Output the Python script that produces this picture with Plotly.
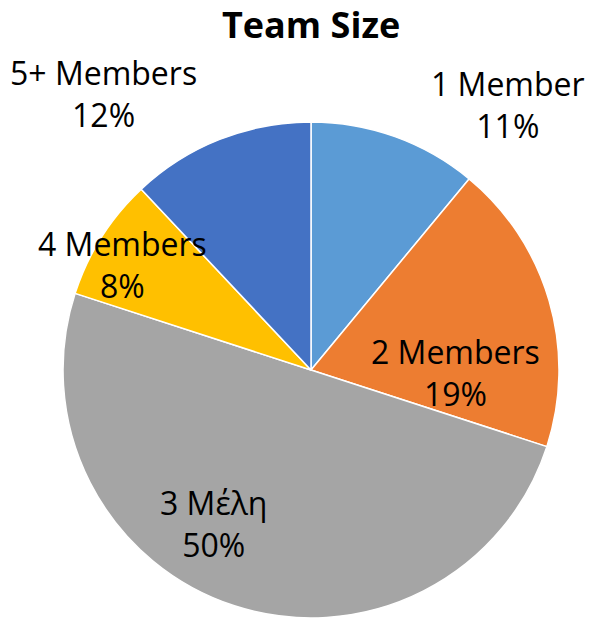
import plotly.graph_objects as go

# data
labels = ["1 Member", "2 Members", "3 Μέλη", "4 Members", "5+ Members"]
values = [11, 19, 50, 8, 12]
colors = ["#5B9BD5", "#ED7D31", "#A5A5A5", "#FFC000", "#4472C4"]

W, H = 593, 620


def fx(px):
    return px / W


def fy(py):
    return 1 - py / H


# label block centres in window pixels (layout only)
label_pos = [(508, 105), (456, 372), (213, 523), (122, 264), (103, 93)]

total = sum(values)
fig = go.Figure(go.Pie(
    labels=labels,
    values=values,
    sort=False,
    direction="clockwise",
    rotation=0,
    marker=dict(colors=colors, line=dict(color="white", width=1.5)),
    textinfo="none",
    hoverinfo="label+percent",
    domain=dict(x=[fx(63), fx(559)], y=[fy(618), fy(122)]),
    showlegend=False,
))

for lab, val, (px, py) in zip(labels, values, label_pos):
    fig.add_annotation(
        x=fx(px), y=fy(py), xref="paper", yref="paper",
        text=f"{lab}<br>{round(100 * val / total)}%",
        showarrow=False, xanchor="center", yanchor="middle",
        font=dict(family="Open Sans", size=32, color="black"),
    )

fig.add_annotation(
    x=fx(311), y=fy(25), xref="paper", yref="paper",
    text="<b>Team Size</b>", showarrow=False,
    xanchor="center", yanchor="middle",
    font=dict(family="Open Sans", size=36, color="black"),
)

fig.update_layout(
    width=W, height=H,
    margin=dict(l=0, r=0, t=0, b=0),
    paper_bgcolor="white",
    plot_bgcolor="white",
)

# drop the default 8px body margin so the figure fills the window
fig.write_html("out.html", config={"displayModeBar": False},
               post_script="document.body.style.margin='0';")
